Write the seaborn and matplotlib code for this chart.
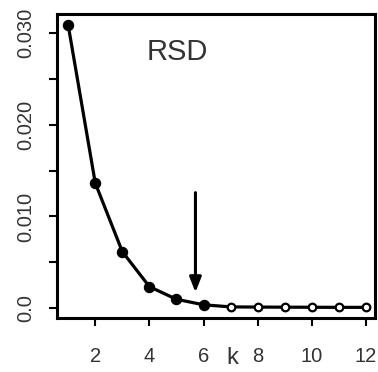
import matplotlib
matplotlib.use("Agg")
import matplotlib.pyplot as plt
import seaborn as sns
import pandas as pd
from matplotlib.ticker import FixedLocator

# Relative standard deviation against number of clusters k
k_values = [1, 2, 3, 4, 5, 6, 7, 8, 9, 10, 11, 12]
rsd_values = [0.0309, 0.01365, 0.00615, 0.00233, 0.00095, 0.00035,
              0.00012, 0.0001, 0.00009, 0.00008, 0.00007, 0.00007]
filled_upto = 6  # points from k=7 on are drawn as open circles

x_ticks = [2, 4, 6, 8, 10, 12]
y_major = [0.0, 0.010, 0.020, 0.030]
y_major_labels = ["0.0", "0.010", "0.020", "0.030"]
y_minor = [0.005, 0.015, 0.025]

chosen_k = 5.7
panel_label = "RSD"

sns.set_style("white")
plt.rcParams["font.family"] = ["Liberation Sans", "DejaVu Sans"]

df = pd.DataFrame({"k": k_values, "rsd": rsd_values})
df["filled"] = df["k"] <= filled_upto

fig = plt.figure(figsize=(3.78, 3.72), dpi=100)
ax = fig.add_axes([0.151, 0.145, 0.841, 0.817])

sns.lineplot(data=df, x="k", y="rsd", ax=ax, color="black", linewidth=2.3)
sns.scatterplot(data=df[df["filled"]], x="k", y="rsd", ax=ax, color="black",
                s=55, edgecolor="black", linewidth=0.8, zorder=3)
sns.scatterplot(data=df[~df["filled"]], x="k", y="rsd", ax=ax, color="white",
                s=30, edgecolor="black", linewidth=1.6, zorder=3)

ax.set_xlim(0.59, 12.33)
ax.set_ylim(-0.0011, 0.0321)

ax.set_xticks(x_ticks)
ax.set_xticklabels([str(t) for t in x_ticks])
ax.set_yticks(y_major)
ax.set_yticklabels(y_major_labels, rotation=90, va="center")
ax.yaxis.set_minor_locator(FixedLocator(y_minor))

ax.tick_params(axis="both", which="both", direction="out", length=6,
               width=1.5, color="black", labelsize=14.5, labelcolor="#333333",
               left=True, bottom=True)
ax.tick_params(axis="x", pad=15)
ax.tick_params(axis="y", pad=10)

for sp in ax.spines.values():
    sp.set_visible(True)
    sp.set_color("black")
    sp.set_linewidth(2.2)

ax.set_ylabel("")
ax.set_xlabel("k", fontsize=17, color="#333333")
ax.xaxis.set_label_coords(0.55, -0.095)

ax.text(5.02, 0.0280, panel_label, fontsize=21, color="#333333",
        ha="center", va="center")

ax.annotate("", xy=(chosen_k, 0.0017), xytext=(chosen_k, 0.0126),
            arrowprops=dict(arrowstyle="-|>,head_length=0.9,head_width=0.35",
                            color="black", lw=2.2, shrinkA=0, shrinkB=0))

fig.savefig("out.png", dpi=100, facecolor="white")
